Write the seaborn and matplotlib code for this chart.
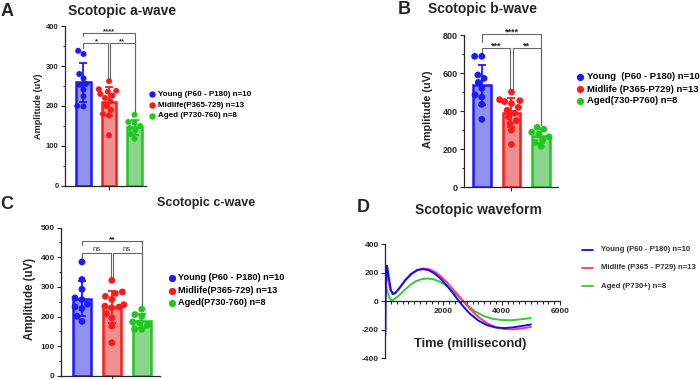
import numpy as np
import pandas as pd
import matplotlib
matplotlib.use('Agg')
import matplotlib.pyplot as plt
import seaborn as sns
from matplotlib.lines import Line2D
from matplotlib.ticker import MultipleLocator

sns.set_style('ticks')
plt.rcParams['font.family'] = ['Liberation Sans', 'DejaVu Sans']
plt.rcParams['font.weight'] = 'bold'
plt.rcParams['axes.unicode_minus'] = False

# groups
groups = ['Young', 'Midlife', 'Aged']

# scotopic a-wave amplitudes (uV)
a_young = [330, 338, 280, 269, 255, 253, 241, 224, 199, 200]
a_mid = [262, 242, 238, 236, 230, 226, 220, 212, 200, 190, 180, 176, 127]
a_aged = [178, 160, 158, 150, 145, 140, 130, 118]
a_sig = [(0, 1, 358, '*'), (1, 2, 358, '**'), (0, 2, 383, '****')]
a_legend = ['Young (P60 - P180) n=10', 'Midlife(P365-729) n=13', 'Aged (P730-760) n=8']

# scotopic b-wave
b_young = [688, 688, 572, 590, 520, 551, 474, 485, 436, 357]
b_mid = [500, 460, 455, 450, 440, 420, 405, 390, 370, 350, 335, 300, 225]
b_aged = [315, 305, 290, 280, 265, 250, 235, 215]
b_sig = [(0, 1, 730, '***'), (1, 2, 730, '**'), (0, 2, 804, '****')]
b_legend = ['Young  (P60 - P180) n=10', 'Midlife (P365-P729) n=13', 'Aged(730-P760) n=8']

# scotopic c-wave
c_young = [384, 325, 292, 263, 257, 242, 233, 227, 201, 184]
c_mid = [322, 283, 278, 268, 258, 240, 235, 232, 230, 210, 195, 168, 112]
c_aged = [225, 207, 201, 182, 179, 171, 157, 157]
c_sig = [(0, 1, 415, 'ns'), (1, 2, 415, 'ns'), (0, 2, 455, '**')]
c_legend = ['Young (P60 - P180) n=10', 'Midlife(P365-729) n=13', 'Aged(P730-760) n=8']

# scotopic waveform (time in ms, amplitude in uV)
t_young = [0, 8, 30, 70, 130, 200, 265, 350, 500, 700, 900, 1100, 1300, 1500, 1700, 1900,
           2100, 2300, 2500, 2700, 2900, 3200, 3500, 3800, 4100, 4400, 4700, 5000]
w_young = [0, -240, 120, 250, 170, 80, 50, 58, 95, 150, 192, 218, 226, 218, 195, 160,
           115, 65, 10, -40, -85, -135, -168, -184, -188, -183, -173, -163]
t_mid = [0, 20, 50, 110, 180, 280, 380, 500, 700, 900, 1100, 1300, 1500, 1700, 1900,
         2100, 2300, 2500, 2700, 2900, 3200, 3500, 3800, 4100, 4400, 4700, 5000]
w_mid = [-60, 120, 200, 150, 80, 55, 62, 92, 148, 192, 220, 230, 226, 208, 178,
         138, 92, 45, -2, -50, -110, -155, -182, -195, -197, -190, -180]
t_aged = [0, 15, 40, 90, 150, 210, 300, 450, 650, 850, 1050, 1250, 1450, 1650, 1850,
          2050, 2250, 2450, 2650, 2850, 3100, 3400, 3700, 4000, 4300, 4600, 5000]
w_aged = [0, 70, 105, 65, 25, 8, 12, 35, 75, 112, 140, 155, 160, 155, 140,
          118, 85, 45, 5, -32, -72, -105, -123, -131, -133, -128, -117]
d_legend = ['Young (P60 - P180) n=10', 'Midlife (P365 - P729) n=13', 'Aged (P730+) n=8']

dot_colors = ['#1a1aff', '#ff1a1a', '#1ec81e']
fill_colors = ['#8080ff', '#ff8080', '#80e080']
line_colors = ['#1010e0', '#ff3388', '#33cc33']

W, H = 700, 379
fig = plt.figure(figsize=(7, 3.79), dpi=100)


def rect(l, t, r, b):
    return [l / W, 1 - b / H, (r - l) / W, (b - t) / H]


def fig_text(x, y, s, **kw):
    fig.text(x / W, 1 - y / H, s, **kw)


def bar_panel(ax, values, sig, ytop, width, dot_size, xlim, tick_fs, outer_leg_px, sig_fs):
    df = pd.DataFrame({'group': np.repeat(groups, [len(v) for v in values]),
                       'amp': np.concatenate(values)})
    sns.barplot(data=df, x='group', y='amp', hue='group', order=groups, hue_order=groups,
                palette=fill_colors, errorbar=None, width=width, linewidth=1.8,
                legend=False, ax=ax, zorder=1)
    for patch, ec in zip(ax.patches, dot_colors):
        patch.set_edgecolor(ec)
    for i, v in enumerate(values):
        ax.errorbar(i, np.mean(v), yerr=np.std(v, ddof=1), color=dot_colors[i],
                    capsize=3, elinewidth=1.3, capthick=1.3, zorder=3)
    sns.swarmplot(data=df, x='group', y='amp', hue='group', order=groups, hue_order=groups,
                  palette=dot_colors, size=dot_size, linewidth=0, legend=False,
                  ax=ax, zorder=4, warn_thresh=1)
    ax.set_xlim(*xlim)
    ax.set_ylim(0, ytop)
    ax.set_xticks([1])
    ax.set_xticklabels([''])
    ax.set_xlabel('')
    ax.yaxis.set_major_locator(MultipleLocator(ytop / 4 if ytop != 500 else 100))
    ax.yaxis.set_minor_locator(MultipleLocator(50 if ytop <= 500 else 100))
    ax.tick_params(axis='both', which='major', length=3, width=0.8, labelsize=tick_fs, pad=1.5)
    ax.tick_params(axis='y', which='minor', length=1.8, width=0.8)
    for sp in ['left', 'bottom']:
        ax.spines[sp].set_linewidth(0.9)
    sns.despine(ax=ax)
    # significance brackets
    ax_px = ax.get_position().height * H
    unit = ytop / ax_px
    pad = 2.5 * unit
    for i, j, h, label in sig:
        xi = i + (0.04 if i == 1 else 0)
        xj = j - (0.04 if j == 1 else 0)
        if j - i == 2:
            bi = h - outer_leg_px * unit
        else:
            bi = min(h - 3 * unit, max(values[i]) + pad)
        bj = max(values[j]) + pad
        ax.plot([xi, xi, xj, xj], [bi, h, h, bj], color='#666666', lw=0.8,
                clip_on=False, zorder=2)
        if label == 'ns':
            ax.annotate(label, ((i + j) / 2, h), xytext=(0, 1), textcoords='offset points',
                        ha='center', va='baseline', fontsize=sig_fs - 0.5,
                        fontweight='normal', color='#333333', annotation_clip=False)
        else:
            ax.annotate(label, ((i + j) / 2, h), xytext=(0, -0.5), textcoords='offset points',
                        ha='center', va='baseline', fontsize=sig_fs,
                        color='#222222', annotation_clip=False)


def dot_legend(labels, x_marker, x_text, ys, fs, ms):
    for lab, y, c in zip(labels, ys, dot_colors):
        fig.add_artist(Line2D([x_marker / W], [1 - y / H], marker='o', color=c,
                              markersize=ms, linestyle='none', transform=fig.transFigure))
        fig_text(x_text, y, lab, fontsize=fs, va='center', ha='left', color='black')


# ---- A ----
axA = fig.add_axes(rect(65, 26, 146, 186))
bar_panel(axA, [a_young, a_mid, a_aged], a_sig, 400, 0.56, 4.3, (-0.725, 2.45), 5.5, 3.3, 5.5)
axA.set_ylabel('Amplitude (uV)', fontsize=6.6, fontweight='bold')
axA.yaxis.set_label_coords(-0.27, 0.5)
fig_text(122, 11, 'Scotopic a-wave', fontsize=10, ha='center', va='center')
fig_text(7, 11, 'A', fontsize=13, ha='center', va='center')
dot_legend(a_legend, 152, 158, [94, 105.3, 115.7], 5.8, 3.6)

# ---- B ----
axB = fig.add_axes(rect(464, 35, 558, 187.3))
bar_panel(axB, [b_young, b_mid, b_aged], b_sig, 800, 0.6, 4.9, (-0.6, 2.57), 6.5, 7.4, 6.5)
axB.set_ylabel('Amplitude (uV)', fontsize=7.8, fontweight='bold')
axB.yaxis.set_label_coords(-0.33, 0.515)
fig_text(482, 9, 'Scotopic b-wave', fontsize=10, ha='center', va='center')
fig_text(404, 9, 'B', fontsize=13, ha='center', va='center')
dot_legend(b_legend, 580, 587, [76.7, 89, 100.7], 6.8, 4.2)

# ---- C ----
axC = fig.add_axes(rect(61, 227.5, 160, 376))
bar_panel(axC, [c_young, c_mid, c_aged], c_sig, 500, 0.59, 4.9, (-0.7, 2.61), 6, 4.3, 6)
axC.set_ylabel('Amplitude (uV)', fontsize=8.3, fontweight='bold')
axC.yaxis.set_label_coords(-0.25, 0.518)
fig_text(206, 203, 'Scotopic c-wave', fontsize=9, ha='center', va='center')
fig_text(7, 204, 'C', fontsize=13, ha='center', va='center')
dot_legend(c_legend, 172, 178, [278, 290.7, 302.7], 6.6, 4.2)

# ---- D ----
axD = fig.add_axes(rect(385, 244.3, 560, 358.3))
for t, w, c in [(t_aged, w_aged, line_colors[2]), (t_mid, w_mid, line_colors[1]),
                (t_young, w_young, line_colors[0])]:
    sns.lineplot(x=t, y=w, color=c, linewidth=1.4, sort=False, ax=axD)
axD.set_xlim(0, 6000)
axD.set_ylim(-400, 400)
axD.spines['bottom'].set_position(('data', 0))
axD.set_xticks([2000, 4000, 6000])
axD.xaxis.set_minor_locator(MultipleLocator(200))
axD.set_yticks([-400, -200, 0, 200, 400])
axD.tick_params(axis='both', which='major', length=3, width=0.8, labelsize=6, pad=1.5)
axD.tick_params(axis='x', which='minor', length=1.8, width=0.8)
for sp in ['left', 'bottom']:
    axD.spines[sp].set_linewidth(0.9)
sns.despine(ax=axD)
fig_text(470, 344, 'Time (millisecond)', fontsize=9.3, ha='center', va='center')
fig_text(478, 210, 'Scotopic waveform', fontsize=10, ha='center', va='center')
fig_text(363, 208, 'D', fontsize=13, ha='center', va='center')
for lab, y, c in zip(d_legend, [249.5, 267.5, 286], line_colors):
    fig.add_artist(Line2D([582 / W, 593 / W], [1 - y / H, 1 - y / H], color=c, lw=1.3,
                          transform=fig.transFigure))
    fig_text(601, y, lab, fontsize=5.6, va='center', ha='left', color='#333333')

fig.savefig('out.png', dpi=100)
